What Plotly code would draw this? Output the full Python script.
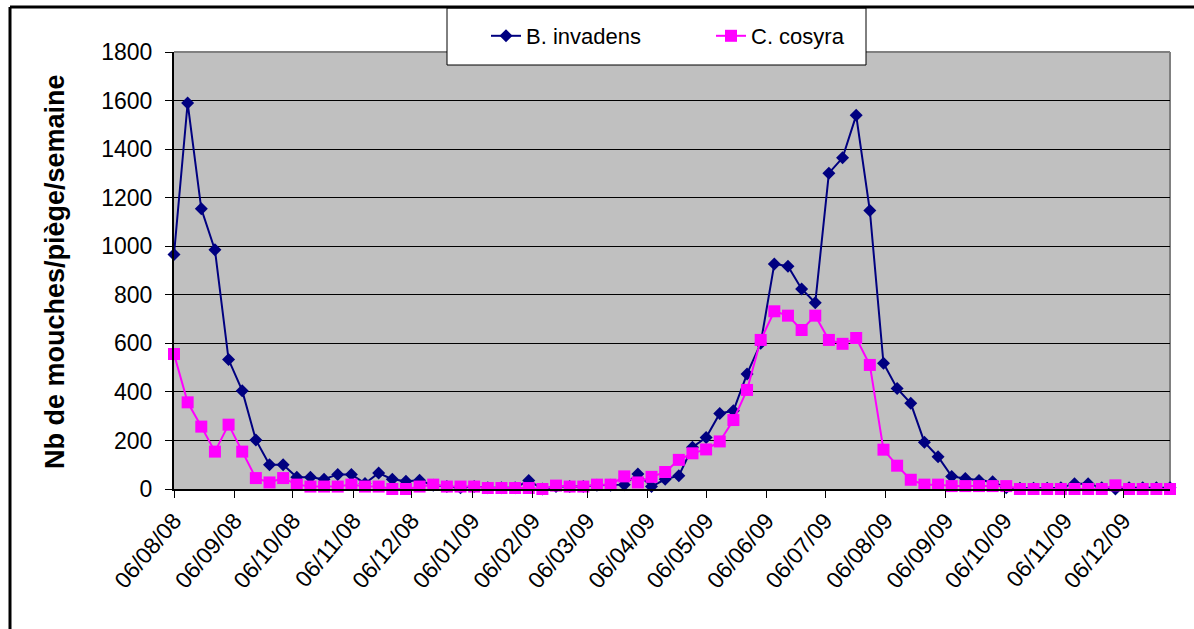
import pandas as pd
import plotly.graph_objects as go

# Weekly trap counts, starting 6 Aug 2008
start_date = "2008-08-06"
n_weeks = 74
weeks = pd.date_range(start_date, periods=n_weeks, freq="7D")

b_invadens = [
    966, 1590, 1154, 985, 533, 405, 202, 100, 100, 48,
    48, 40, 60, 60, 23, 66, 40, 32, 36, 15,
    10, 5, 10, 5, 5, 5, 35, 0, 10, 10,
    10, 15, 15, 18, 62, 10, 40, 55, 172, 212,
    311, 322, 474, 600, 927, 918, 824, 767, 1301, 1364,
    1539, 1147, 518, 414, 353, 193, 133, 52, 43, 35,
    30, 5, 3, 3, 3, 5, 22, 22, 5, 0,
    5, 5, 5, 5,
]
c_cosyra = [
    556, 357, 257, 154, 265, 154, 45, 27, 45, 18,
    10, 10, 10, 18, 10, 10, 0, 0, 10, 18,
    10, 10, 10, 4, 4, 4, 4, 0, 14, 10,
    10, 18, 18, 52, 27, 50, 70, 120, 147, 163,
    196, 284, 408, 614, 732, 714, 655, 714, 614, 598,
    622, 511, 162, 96, 38, 18, 18, 12, 12, 12,
    12, 12, 0, 0, 0, 0, 0, 0, 0, 15,
    0, 0, 0, 0,
]

# Monthly tick marks on the 6th of each month
month_ticks = [pd.Timestamp(2008, 8, 6) + pd.DateOffset(months=k) for k in range(17)]

FONT = "Liberation Sans, Arial, sans-serif"
W, H = 1194, 629
L, R, T, B = 174, 24, 52, 140
pw, ph = W - L - R, H - T - B


def px_x(x):
    return (x - L) / pw


def px_y(y):
    return (H - B - y) / ph


fig = go.Figure()
fig.add_trace(go.Scatter(
    x=weeks, y=b_invadens, name="B. invadens", mode="lines+markers",
    line=dict(color="#000080", width=2),
    marker=dict(symbol="diamond", size=10, color="#000080"),
    cliponaxis=False,
))
fig.add_trace(go.Scatter(
    x=weeks, y=c_cosyra, name="C. cosyra", mode="lines+markers",
    line=dict(color="#FF00FF", width=2),
    marker=dict(symbol="square", size=12, color="#FF00FF"),
    cliponaxis=False,
))

shapes = [
    # legend box
    dict(type="rect", xref="paper", yref="paper",
         x0=px_x(447), x1=px_x(866), y0=px_y(65), y1=px_y(8),
         fillcolor="white", line=dict(color="black", width=1), layer="above"),
    # plot-area border (top and right)
    dict(type="line", xref="paper", yref="paper", x0=0, x1=1, y0=1, y1=1,
         line=dict(color="#808080", width=2), layer="below"),
    dict(type="line", xref="paper", yref="paper", x0=1, x1=1, y0=0, y1=1,
         line=dict(color="#808080", width=2), layer="below"),
    # outer chart frame
    dict(type="line", xref="paper", yref="paper",
         x0=px_x(10), x1=px_x(1200), y0=px_y(7), y1=px_y(7),
         line=dict(color="black", width=3)),
    dict(type="line", xref="paper", yref="paper",
         x0=px_x(10), x1=px_x(10), y0=px_y(7), y1=px_y(640),
         line=dict(color="black", width=3)),
]

fig.update_layout(
    width=W, height=H,
    margin=dict(l=L, r=R, t=T, b=B, autoexpand=False),
    paper_bgcolor="white",
    plot_bgcolor="#C0C0C0",
    font=dict(family=FONT, size=22, color="black"),
    shapes=shapes,
    showlegend=True,
    legend=dict(
        orientation="h", x=px_x(486), xanchor="left",
        y=px_y(36), yanchor="middle",
        bgcolor="rgba(0,0,0,0)", borderwidth=0,
        font=dict(family=FONT, size=22, color="black"),
        entrywidth=180, itemwidth=30,
    ),
    annotations=[dict(
        text="<b>Nb de mouches/piège/semaine</b>", textangle=-90,
        xref="paper", yref="paper", x=px_x(55), y=px_y(272),
        showarrow=False, font=dict(family=FONT, size=27, color="black"),
        xanchor="center", yanchor="middle",
    )],
)

fig.update_xaxes(
    type="date", range=[weeks[0], weeks[-1]],
    tickvals=month_ticks, tickformat="%d/%m/%y", tickangle=-50,
    ticks="outside", ticklen=7, tickcolor="black",
    showline=True, linecolor="black", linewidth=2,
    showgrid=False, zeroline=False,
    tickfont=dict(family=FONT, size=23, color="black"),
)
fig.update_yaxes(
    range=[0, 1800], dtick=200, tick0=0,
    ticks="outside", ticklen=7, tickcolor="black",
    showline=True, linecolor="black", linewidth=2,
    showgrid=True, gridcolor="black", gridwidth=1,
    zeroline=False, ticklabelstandoff=8,
    tickfont=dict(family=FONT, size=23, color="black"),
)

fig.write_html("out.html")
